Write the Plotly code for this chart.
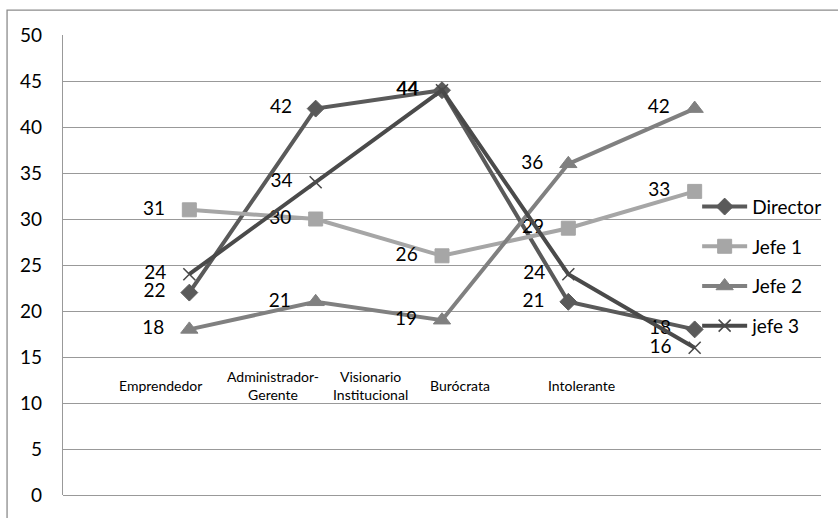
import plotly.graph_objects as go

# Leadership-style scores per profile
categories = ["Emprendedor", "Administrador-<br>Gerente", "Visionario<br>Institucional", "Burócrata", "Intolerante"]
series_names = ["Director", "Jefe 1", "Jefe 2", "jefe 3"]
director = [22, 42, 44, 21, 18]
jefe1 = [31, 30, 26, 29, 33]
jefe2 = [18, 21, 19, 36, 42]
jefe3 = [24, 34, 44, 24, 16]
y_ticks = [0, 5, 10, 15, 20, 25, 30, 35, 40, 45, 50]

# horizontal placement of the category captions (in category-index units)
label_x = [-0.225, 0.66, 1.435, 2.146, 3.103]

FONT = "Lato"
PAD = "\u00a0\u00a0\u00a0"  # gap between a data label and its marker
styles = [
    dict(color="#5A5A5A", symbol="diamond", size=13, lw=1),
    dict(color="#A6A6A6", symbol="square", size=14, lw=1),
    dict(color="#808080", symbol="triangle-up", size=15, lw=1),
    dict(color="#4A4A4A", symbol="x-thin", size=12, lw=1.6),
]

fig = go.Figure()
for name, vals, st in zip(series_names, [director, jefe1, jefe2, jefe3], styles):
    fig.add_trace(go.Scatter(
        x=categories, y=vals, name=name, legendgroup=name,
        mode="lines+markers+text",
        text=[f"{v}{PAD}" for v in vals], textposition="middle left",
        textfont=dict(family=FONT, size=19, color="#000000"),
        line=dict(color=st["color"], width=4),
        marker=dict(symbol=st["symbol"], size=st["size"], color=st["color"],
                    line=dict(color=st["color"], width=st["lw"])),
        cliponaxis=False,
    ))

# category captions floating inside the plot area
for lx, cat in zip(label_x, categories):
    fig.add_annotation(x=lx, y=11.9, xref="x", yref="y", text=cat, showarrow=False,
                       font=dict(family=FONT, size=14, color="#000000"),
                       xanchor="center", yanchor="middle", align="center")

# outer chart frame
fig.add_shape(type="rect", xref="paper", yref="paper",
              x0=-0.0738, x1=1.1, y0=-0.2, y1=1.0539,
              line=dict(color="#8C8C8C", width=1.3), layer="below")

fig.update_layout(
    width=838, height=518,
    margin=dict(l=63, r=16, t=35, b=19),
    paper_bgcolor="white", plot_bgcolor="white",
    font=dict(family=FONT, size=19, color="#000000"),
    showlegend=True,
    legend=dict(x=0.8366, y=0.668, xanchor="left", yanchor="top",
                bgcolor="rgba(0,0,0,0)", font=dict(family=FONT, size=19),
                traceorder="grouped", tracegroupgap=12, itemwidth=45),
    xaxis=dict(type="category", range=[-1, 5], showticklabels=False, showgrid=False,
               zeroline=False, showline=False, fixedrange=True),
    yaxis=dict(range=[0, 50], tickvals=y_ticks, showgrid=True, gridcolor="#999999",
               gridwidth=1.3, zeroline=True, zerolinecolor="#999999", zerolinewidth=1.3,
               showline=True, linecolor="#999999",
               linewidth=1.3, ticks="", ticklabelstandoff=16,
               tickfont=dict(family=FONT, size=19, color="#000000")),
)

fig.write_html("out.html")
